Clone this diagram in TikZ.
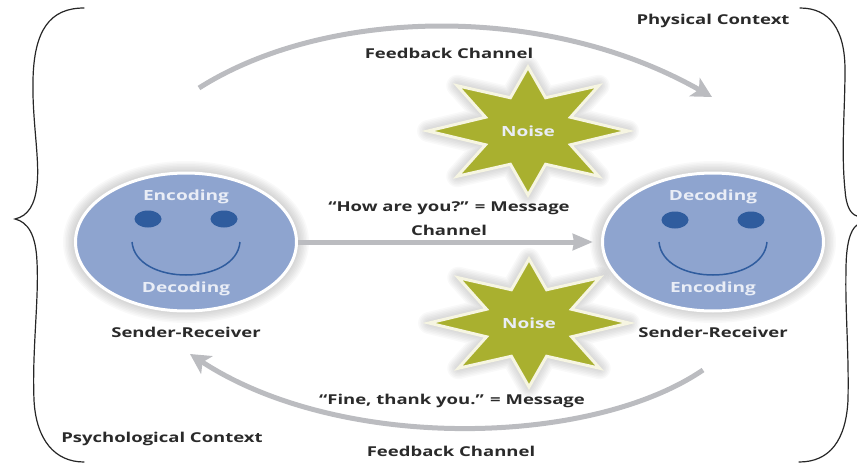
\documentclass[tikz,border=0pt]{standalone}
\usepackage{fontspec}
\setmainfont[FakeStretch=1.36]{Open Sans}
\usetikzlibrary{arrows.meta,shapes.geometric,calc}

\definecolor{facefill}{HTML}{8EA4CF}
\definecolor{eyefill}{HTML}{2F5C9E}
\definecolor{starfill}{HTML}{A9B02F}
\definecolor{starline}{HTML}{F6F5E2}
\definecolor{channelgray}{HTML}{BBBCC0}
\definecolor{labelgray}{HTML}{2A2A2A}
\definecolor{facetext}{HTML}{E9EDF6}

\tikzset{
  lbl/.style={font=\bfseries\fontsize{13.6}{15}\selectfont, text=labelgray, inner sep=0pt},
  facelbl/.style={font=\bfseries\fontsize{14}{16}\selectfont, text=facetext, inner sep=0pt},
  face/.style={ellipse, draw=white, line width=3pt, fill=facefill, minimum width=221pt, minimum height=138pt, inner sep=0pt},
  eye/.style={ellipse, fill=eyefill, minimum width=27pt, minimum height=17pt, inner sep=0pt},
  channel/.style={channelgray, line width=5pt, -{Stealth[length=20pt, width=21pt, inset=5pt]}},
  straightchannel/.style={channelgray, line width=5pt, -{Stealth[length=20pt, width=16pt, inset=1pt]}},
  bracket/.style={black!85, line width=1.2pt, line cap=round},
  smile/.style={eyefill, line width=1.5pt},
}

% soft shadow round a shape, widest stroke first
\newcommand{\softshadow}[1]{
  \foreach \w in {22,19,...,1} {
    \draw[black, opacity=.022, line width=\w pt, line join=round] #1;
  }
}

\newcommand{\starpath}[1]{
  (#1) ++(90:64) \foreach \a in {112.5,157.5,...,427.5} {
    -- ($(#1)+(\a:46 and 36)$) -- ($(#1)+(\a+22.5:100 and 64)$)
  } -- cycle
}

\begin{document}
\begin{tikzpicture}[x=1pt, y=-1pt]

  \useasboundingbox (0, 0) rectangle (857, 463);

  % context brackets
  \draw[bracket] (84, 8) .. controls (50, 8) and (34, 30) .. (33, 80)
    .. controls (32, 120) and (40, 160) .. (37, 185)
    .. controls (35, 205) and (28, 216) .. (15, 219)
    .. controls (28, 222) and (36, 235) .. (37, 262)
    .. controls (39, 300) and (32, 350) .. (34, 400)
    .. controls (36, 440) and (55, 462) .. (84, 462);
  \draw[bracket] (800, 8) .. controls (830, 8) and (845, 30) .. (845, 70)
    .. controls (845, 110) and (841, 150) .. (845, 190)
    .. controls (846, 205) and (850, 214) .. (857, 216);
  \draw[bracket] (857, 225) .. controls (850, 230) and (846, 245) .. (846, 270)
    .. controls (845, 310) and (849, 350) .. (848, 400)
    .. controls (846, 440) and (830, 462) .. (799, 462);

  \coordinate (topstart) at (199, 88);
  \coordinate (topend) at (712, 97);
  \coordinate (botstart) at (703, 370);
  \coordinate (botend) at (190, 354);

  % shadows go first
  \softshadow{(186, 242) ellipse (112 and 70)}
  \softshadow{(713, 242) ellipse (112 and 70)}
  \softshadow{\starpath{528, 131}}
  \softshadow{\starpath{529, 323}}

  \node[face] (leftface) at (186, 242) {};
  \node[face] (rightface) at (713, 242) {};

  \draw[channel] (topstart) .. controls (325, 8) and (545, 2) .. (topend);
  \draw[channel] (botstart) .. controls (590, 447) and (340, 452) .. (botend);
  \draw[straightchannel] (leftface) -- ([xshift=-8pt]rightface.west);

  \node[eye] (lefteyea) at (148, 219) {};
  \node[eye] (lefteyeb) at (224, 219) {};
  \node[eye] (righteyea) at (675, 220) {};
  \node[eye] (righteyeb) at (751, 220) {};
  \draw[smile] (132, 242) .. controls (136, 286) and (236, 286) .. (240, 242);
  \draw[smile] (659, 242) .. controls (663, 286) and (763, 286) .. (767, 242);

  \fill[starfill, draw=starline, line width=3pt, miter limit=10] \starpath{528, 131};
  \fill[starfill, draw=starline, line width=3pt, miter limit=10] \starpath{529, 323};

  \node[facelbl] (noiseup) at (528, 131) {Noise};
  \node[facelbl] (noisedown) at (529, 323) {Noise};

  \node[facelbl] (leftenc) at (186, 197) {Encoding};
  \node[facelbl] (leftdec) at (186, 289) {Decoding};
  \node[facelbl] (rightdec) at (713, 197) {Decoding};
  \node[facelbl] (rightenc) at (713, 289) {Encoding};

  \node[lbl] (leftname) at (186, 332) {Sender-Receiver};
  \node[lbl] (rightname) at (713, 332) {Sender-Receiver};
  \node[lbl] (physical) at (713, 21) {Physical Context};
  \node[lbl] (psych) at (162, 439) {Psychological Context};
  \node[lbl] (feedup) at (449, 53) {Feedback Channel};
  \node[lbl] (feeddown) at (451, 451) {Feedback Channel};
  \node[lbl] (hello) at (449, 208) {``How are you?'' = Message};
  \node[lbl] (chan) at (449, 230) {Channel};
  \node[lbl] (reply) at (452, 401) {``Fine, thank you.'' = Message};

\end{tikzpicture}
\end{document}
